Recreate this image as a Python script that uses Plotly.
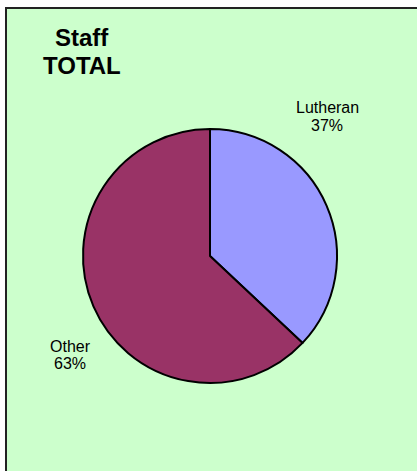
import plotly.graph_objects as go

# figure slightly larger than the 417x471 window; overflow is clipped
W, H = 425, 480

# Data
labels = ["Lutheran", "Other"]
values = [37, 63]
colors = ["#9999FF", "#993366"]
title_lines = ["Staff", "TOTAL"]

def px(x):
    return x / W

def py(y):
    return 1 - y / H

fig = go.Figure()
fig.add_trace(go.Pie(
    labels=labels,
    values=values,
    sort=False,
    direction="clockwise",
    rotation=0,
    textinfo="none",
    hoverinfo="label+percent",
    marker=dict(colors=colors, line=dict(color="black", width=2)),
    domain=dict(x=[px(83), px(337)], y=[py(383), py(129)]),
    showlegend=False,
))

total = sum(values)
# (x center, y of first line, y of second line) in pixels
label_pos = [(327, 107.5, 126), (70, 346, 363.5)]
annotations = []
for lab, val, (x, y1, y2) in zip(labels, values, label_pos):
    for txt, y in ((lab, y1), (f"{round(100 * val / total)}%", y2)):
        annotations.append(dict(
            text=txt,
            x=px(x), y=py(y), xref="paper", yref="paper",
            xanchor="center", yanchor="middle", showarrow=False,
            font=dict(family="Liberation Sans, Arial", size=16, color="black"),
            align="center",
        ))

for txt, y in zip(title_lines, (37, 66)):
    annotations.append(dict(
        text=f"<b>{txt}</b>",
        x=px(82), y=py(y), xref="paper", yref="paper",
        xanchor="center", yanchor="middle", showarrow=False,
        font=dict(family="Liberation Sans, Arial", size=24, color="black"),
        align="center",
    ))

shapes = [
    # white strips outside the green panel (top and left)
    dict(type="rect", xref="paper", yref="paper", x0=0, x1=1, y0=py(8), y1=1,
         fillcolor="white", line=dict(width=0), layer="below"),
    dict(type="rect", xref="paper", yref="paper", x0=0, x1=px(6), y0=0, y1=1,
         fillcolor="white", line=dict(width=0), layer="below"),
    # panel border (top and left edges)
    dict(type="line", xref="paper", yref="paper", x0=px(5), x1=1, y0=py(8), y1=py(8),
         line=dict(color="#222222", width=2), layer="below"),
    dict(type="line", xref="paper", yref="paper", x0=px(6), x1=px(6), y0=0, y1=py(7),
         line=dict(color="#222222", width=2), layer="below"),
]

fig.update_layout(
    width=W, height=H,
    margin=dict(l=0, r=0, t=0, b=0),
    paper_bgcolor="#CCFFCC",
    plot_bgcolor="#CCFFCC",
    annotations=annotations,
    shapes=shapes,
)

fig.write_html(
    "out.html",
    config={"displayModeBar": False},
    post_script="document.body.style.margin='0';document.body.style.overflow='hidden';document.documentElement.style.overflow='hidden';",
)
